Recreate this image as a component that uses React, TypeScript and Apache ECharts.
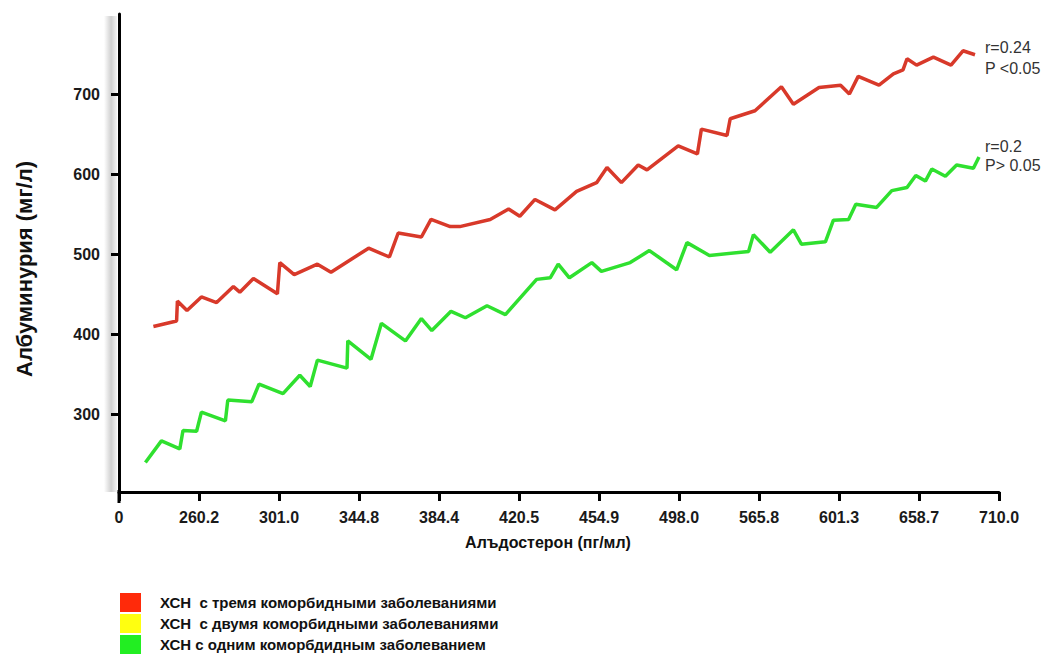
import React, { useEffect, useRef } from "react";
import * as echarts from "echarts";

const xTickLabels = ["0", "260.2", "301.0", "344.8", "384.4", "420.5", "454.9", "498.0", "565.8", "601.3", "658.7", "710.0"];
const yTickValues = [300, 400, 500, 600, 700];

const seriesNames = [
  "ХСН  с тремя коморбидными заболеваниями",
  "ХСН  с двумя коморбидными заболеваниями",
  "ХСН с одним коморбдидным заболеванием",
];

// [x position in tick steps, albuminuria]
const redPoints: [number, number][] = [
  [0.43, 410], [0.72, 417], [0.73, 442], [0.85, 430], [1.03, 447], [1.22, 440], [1.43, 460], [1.51, 453],
  [1.68, 470], [1.98, 451], [2.01, 490], [2.19, 475], [2.48, 488], [2.65, 478], [3.12, 508], [3.38, 497],
  [3.49, 527], [3.78, 522], [3.9, 544], [4.14, 535], [4.26, 535], [4.64, 544], [4.87, 557], [5.01, 548],
  [5.2, 569], [5.45, 556], [5.72, 579], [5.97, 590], [6.1, 609], [6.28, 590], [6.49, 612], [6.6, 606],
  [6.99, 636], [7.23, 626], [7.28, 657], [7.6, 649], [7.64, 670], [7.95, 680], [8.28, 710], [8.43, 688],
  [8.75, 709], [9.02, 712], [9.13, 701], [9.24, 723], [9.5, 712], [9.68, 726], [9.8, 731], [9.85, 745],
  [9.97, 737], [10.18, 747], [10.4, 737], [10.55, 755], [10.7, 750],
];

const yellowPoints: [number, number][] = [];

const greenPoints: [number, number][] = [
  [0.33, 240], [0.53, 267], [0.76, 257], [0.8, 280], [0.97, 279], [1.03, 303], [1.33, 292], [1.36, 318],
  [1.66, 316], [1.75, 338], [2.05, 326], [2.26, 349], [2.39, 335], [2.48, 368], [2.85, 358], [2.86, 392],
  [3.15, 369], [3.28, 414], [3.58, 392], [3.78, 420], [3.91, 405], [4.15, 429], [4.33, 421], [4.6, 436],
  [4.83, 425], [5.22, 469], [5.39, 471], [5.49, 488], [5.63, 471], [5.91, 490], [6.03, 479], [6.39, 490],
  [6.63, 505], [6.97, 481], [7.1, 515], [7.38, 499], [7.87, 504], [7.93, 525], [8.14, 503], [8.43, 531],
  [8.53, 513], [8.83, 516], [8.93, 543], [9.12, 544], [9.21, 563], [9.47, 559], [9.66, 580], [9.85, 584],
  [9.96, 599], [10.08, 592], [10.16, 607], [10.33, 598], [10.47, 612], [10.68, 608], [10.75, 622],
];

const lineColors = ["#d8392a", "#f2f200", "#2fe02f"];
const legendColors = ["#ff2a0a", "#ffff10", "#22ee22"];

const FONT = "'Liberation Sans', Arial, sans-serif";

export default function App() {
  const ref = useRef<HTMLDivElement>(null);

  useEffect(() => {
    if (!ref.current) return;
    const chart = echarts.init(ref.current, null, { renderer: "svg" });
    const dataSets = [redPoints, yellowPoints, greenPoints];
    chart.setOption({
      animation: false,
      backgroundColor: "#ffffff",
      textStyle: { fontFamily: FONT },
      grid: { left: 119, right: 47, top: 14, height: 478 },
      legend: {
        type: "plain",
        orient: "vertical",
        left: 120,
        top: 593,
        height: 90,
        padding: 0,
        itemGap: 2,
        itemWidth: 21,
        itemHeight: 19,
        icon: "rect",
        selectedMode: false,
        textStyle: { fontFamily: FONT, fontSize: 15, fontWeight: "bold", color: "#111", padding: [0, 0, 0, 14] },
        data: seriesNames.map((n, i) => ({ name: n, itemStyle: { color: legendColors[i] } })),
      },
      xAxis: {
        type: "value",
        min: 0,
        max: 11,
        interval: 1,
        name: "Алъдостерон (пг/мл)",
        nameLocation: "middle",
        nameGap: 42,
        nameTextStyle: { fontFamily: FONT, fontSize: 16, fontWeight: "bold", color: "#111", padding: [0, 22, 0, 0] },
        axisLine: { onZero: false, lineStyle: { color: "#000", width: 3 } },
        axisTick: { show: true, length: 9, lineStyle: { color: "#000", width: 3 } },
        axisLabel: {
          margin: 17,
          fontFamily: FONT,
          fontSize: 16,
          fontWeight: "bold",
          color: "#1a1a1a",
          formatter: (v: number) => xTickLabels[Math.round(v)] ?? "",
        },
        splitLine: { show: false },
      },
      yAxis: {
        type: "value",
        min: 203,
        max: 801,
        axisLine: { show: true, onZero: false, lineStyle: { color: "#000", width: 3 } },
        axisTick: { show: true, length: 8, customValues: yTickValues, lineStyle: { color: "#000", width: 3 } },
        axisLabel: {
          margin: 19,
          fontFamily: FONT,
          fontSize: 16,
          fontWeight: "bold",
          color: "#1a1a1a",
          customValues: yTickValues,
        },
        splitLine: { show: false },
      },
      graphic: [
        {
          type: "rect",
          z: -1,
          shape: { x: 104, y: 16, width: 13, height: 476 },
          style: {
            fill: new echarts.graphic.LinearGradient(0, 0, 1, 0, [
              { offset: 0, color: "rgba(150,150,150,0)" },
              { offset: 0.55, color: "rgba(150,150,150,0.45)" },
              { offset: 1, color: "rgba(150,150,150,0.1)" },
            ]),
          },
        },
        {
          type: "line",
          shape: { x1: 119, y1: 490, x2: 119, y2: 503 },
          style: { stroke: "#000", lineWidth: 3 },
        },
        {
          type: "text",
          x: 24,
          y: 269,
          rotation: Math.PI / 2,
          style: {
            text: "Албуминурия (мг/л)",
            fontFamily: FONT,
            fontSize: 22,
            fontWeight: "bold",
            fill: "#111",
            align: "center",
            verticalAlign: "middle",
          },
        },
        { type: "text", x: 985, y: 47, style: { text: "r=0.24", fontFamily: FONT, fontSize: 16, fill: "#333", verticalAlign: "middle" } },
        { type: "text", x: 985, y: 68, style: { text: "P <0.05", fontFamily: FONT, fontSize: 16, fill: "#333", verticalAlign: "middle" } },
        { type: "text", x: 985, y: 146, style: { text: "r=0.2", fontFamily: FONT, fontSize: 16, fill: "#333", verticalAlign: "middle" } },
        { type: "text", x: 985, y: 165, style: { text: "P> 0.05", fontFamily: FONT, fontSize: 16, fill: "#333", verticalAlign: "middle" } },
      ],
      series: seriesNames.map((n, i) => ({
        name: n,
        type: "line",
        data: dataSets[i],
        showSymbol: false,
        symbol: "none",
        smooth: false,
        color: lineColors[i],
        lineStyle: { color: lineColors[i], width: 3.5 },
      })),
    });
    return () => chart.dispose();
  }, []);

  return <div ref={ref} style={{ position: "fixed", left: 0, top: 0, width: 1046, height: 654 }} />;
}
